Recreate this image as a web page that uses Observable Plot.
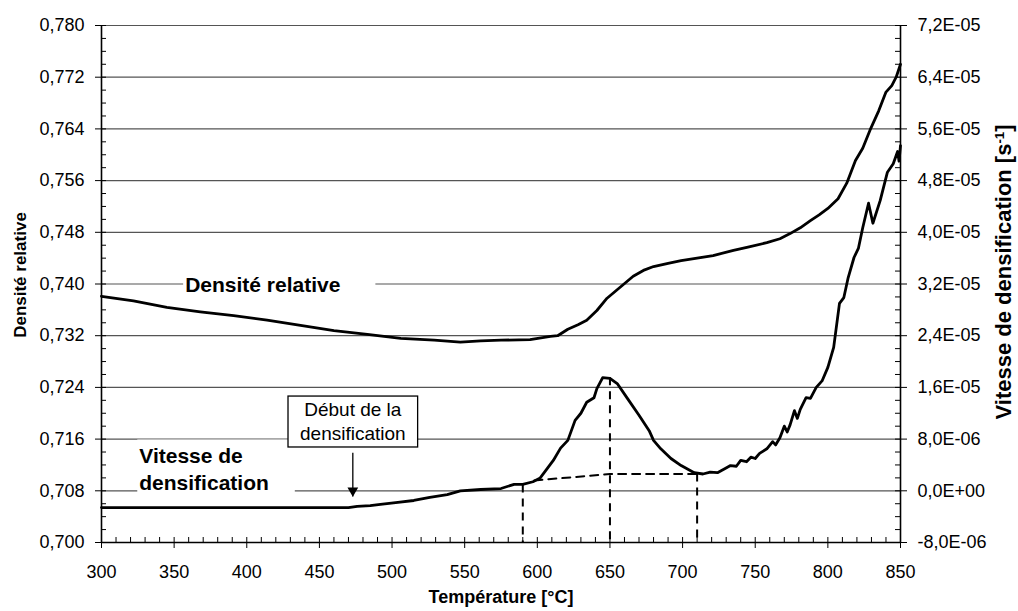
<!DOCTYPE html>
<html>
<head>
<meta charset="utf-8">
<script src="https://cdn.jsdelivr.net/npm/d3@7"></script>
<script src="https://cdn.jsdelivr.net/npm/@observablehq/plot@0.6"></script>
<style>
  html, body { margin: 0; padding: 0; background: #fff; }
  #chart svg { display: block; }
</style>
</head>
<body>
<div id="chart"></div>
<script>
// ---------- Data ----------
// Relative density vs temperature (left axis)
const densityT = [300, 322, 345, 368, 391, 414, 437, 460, 483, 506, 529, 547, 561, 575, 595, 609, 614, 621, 628, 634, 641, 648, 657, 666, 673, 680, 690, 699, 710, 721, 735, 745, 758, 767, 774, 781, 788, 794, 800, 807, 813, 819, 824, 829, 835, 840, 844, 847, 850];
const densityValues = [0.7381, 0.7374, 0.7364, 0.7357, 0.7351, 0.7344, 0.7336, 0.7328, 0.7322, 0.7316, 0.7313, 0.7310, 0.7312, 0.7313, 0.7314, 0.7319, 0.7320, 0.7330, 0.7337, 0.7344, 0.7359, 0.7378, 0.7395, 0.7412, 0.7421, 0.7427, 0.7432, 0.7436, 0.7440, 0.7444, 0.7452, 0.7457, 0.7464, 0.7470, 0.7478, 0.7487, 0.7498, 0.7507, 0.7517, 0.7532, 0.7556, 0.7591, 0.7610, 0.7638, 0.7668, 0.7697, 0.7707, 0.7720, 0.7740];

// Densification rate vs temperature (right axis, s^-1)
const rateT = [300, 350, 400, 450, 470, 476, 485, 492, 504, 515, 526, 538, 547, 561, 575, 584, 590, 597, 602, 606, 611, 616, 621, 626, 630, 634, 639, 641, 645, 650, 655, 662, 670, 677, 680, 685, 692, 699, 708, 714, 719, 724, 729, 733, 737, 740, 744, 747, 750, 753, 758, 762, 764, 767, 770, 772, 774, 777, 779, 781, 785, 788, 792, 796, 800, 804, 808, 811, 814, 818, 821, 824, 828, 831, 836, 841, 845, 848, 849, 850];
const rateValues = [-2.6e-6, -2.6e-6, -2.6e-6, -2.6e-6, -2.6e-6, -2.4e-6, -2.3e-6, -2.1e-6, -1.8e-6, -1.5e-6, -1.0e-6, -0.6e-6, 0.0, 0.2e-6, 0.35e-6, 1.0e-6, 1.0e-6, 1.4e-6, 2.0e-6, 3.2e-6, 4.7e-6, 6.6e-6, 7.8e-6, 10.9e-6, 12.0e-6, 13.7e-6, 14.4e-6, 15.8e-6, 17.5e-6, 17.4e-6, 16.6e-6, 14.3e-6, 11.7e-6, 9.3e-6, 7.8e-6, 6.5e-6, 5.0e-6, 3.9e-6, 2.8e-6, 2.6e-6, 2.9e-6, 2.8e-6, 3.4e-6, 3.9e-6, 3.8e-6, 4.7e-6, 4.5e-6, 5.2e-6, 5.0e-6, 5.8e-6, 6.5e-6, 7.6e-6, 7.1e-6, 8.2e-6, 10.0e-6, 9.1e-6, 10.2e-6, 12.4e-6, 11.2e-6, 12.6e-6, 14.4e-6, 14.3e-6, 16.0e-6, 17.0e-6, 19.1e-6, 22.2e-6, 29.0e-6, 29.9e-6, 33.0e-6, 36.1e-6, 37.5e-6, 40.7e-6, 44.5e-6, 41.4e-6, 44.9e-6, 49.3e-6, 50.6e-6, 52.5e-6, 51.0e-6, 53.4e-6];

// Dashed construction lines (rate units)
const baselineT = [598, 650, 710];
const baselineRate = [1.6e-6, 2.6e-6, 2.6e-6];
const dropT = [590, 650, 710];
const dropRate = [0.9e-6, 17.5e-6, 2.6e-6];

// Axes
const tempDomain = [300, 850];
const densityDomain = [0.700, 0.780];
const rateDomain = [-8e-6, 7.2e-5];
const tempTicks = [300, 350, 400, 450, 500, 550, 600, 650, 700, 750, 800, 850];
const densityTicks = [0.700, 0.708, 0.716, 0.724, 0.732, 0.740, 0.748, 0.756, 0.764, 0.772, 0.780];
const rateTicks = [-8e-6, 0, 8e-6, 1.6e-5, 2.4e-5, 3.2e-5, 4.0e-5, 4.8e-5, 5.6e-5, 6.4e-5, 7.2e-5];
const rateTickLabels = ["-8,0E-06", "0,0E+00", "8,0E-06", "1,6E-05", "2,4E-05", "3,2E-05", "4,0E-05", "4,8E-05", "5,6E-05", "6,4E-05", "7,2E-05"];
const tempMinorStep = 10;
const densityMinorStep = 0.002;

// Texts
const xTitle = "Température [°C]";
const yTitle = "Densité relative";
const y2Title = "Vitesse de densification [s-1]";
const densityLabel = ["Densité relative"];
const densityLabelT = [411];
const densityLabelD = [0.7398];
const rateLabel = ["Vitesse de\ndensification"];
const rateLabelT = [326];
const rateLabelD = [0.7116];
const onsetLabel = ["Début de la\ndensification"];
const onsetT = [473];
const onsetLabelD = [0.7189];
const onsetArrowFromD = [0.7139];
const onsetArrowToD = [0.7071];

// ---------- Build ----------
const W = 1018, H = 611;
const M = {top: 25, right: 118, bottom: 69, left: 101};
const plotW = W - M.left - M.right;
const plotH = H - M.top - M.bottom;

const rateToDensity = d3.scaleLinear().domain(rateDomain).range(densityDomain);

const densityData = densityT.map((t, i) => ({t, v: densityValues[i]}));
const rateData = rateT.map((t, i) => ({t, v: rateToDensity(rateValues[i])}));
const baselineData = baselineT.map((t, i) => ({t, v: rateToDensity(baselineRate[i])}));
const dropData = dropT.map((t, i) => ({t, y1: rateToDensity(dropRate[i]), y2: densityDomain[0]}));

const minorT = d3.range(tempDomain[0], tempDomain[1] + 0.001, tempMinorStep);
const minorD = d3.range(0, Math.round((densityDomain[1] - densityDomain[0]) / densityMinorStep) + 1)
  .map(i => +(densityDomain[0] + i * densityMinorStep).toFixed(4));
const rateTickPos = rateTicks.map(r => rateToDensity(r));

const fmtDensity = d => d.toFixed(3).replace(".", ",");
const fmtRate = d => {
  const i = rateTickPos.findIndex(p => Math.abs(p - d) < 1e-7);
  return i >= 0 ? rateTickLabels[i] : "";
};

const gridColor = "#555";

const svg = Plot.plot({
  width: W,
  height: H,
  marginTop: M.top,
  marginRight: M.right,
  marginBottom: M.bottom,
  marginLeft: M.left,
  style: {fontFamily: "'Liberation Sans', Arial, Helvetica, sans-serif", fontSize: "18px", color: "black", background: "white"},
  x: {domain: tempDomain},
  y: {domain: densityDomain},
  marks: [
    // horizontal gridlines
    Plot.ruleY(densityTicks, {stroke: gridColor, strokeWidth: 1.2}),
    // minor ticks (inside)
    Plot.tickY(minorD, {y: d => d, stroke: "black", strokeWidth: 1, insetRight: plotW - 5}),
    Plot.tickY(minorD, {y: d => d, stroke: "black", strokeWidth: 1, insetLeft: plotW - 5}),
    Plot.tickX(minorT, {x: d => d, stroke: "black", strokeWidth: 1, insetTop: plotH - 5}),
    // axes
    Plot.axisY({anchor: "left", ticks: densityTicks, tickFormat: fmtDensity, tickSize: 6, tickPadding: 11, label: null, fontSize: 18}),
    Plot.axisY({anchor: "right", ticks: rateTickPos, tickFormat: fmtRate, tickSize: 6, tickPadding: 11, label: null, fontSize: 18}),
    Plot.axisX({anchor: "bottom", ticks: tempTicks, tickSize: 6, tickPadding: 17, label: null, fontSize: 18}),
    // frame lines
    Plot.ruleX(tempDomain, {stroke: "black", strokeWidth: 1.6}),
    Plot.ruleY([densityDomain[0]], {stroke: "black", strokeWidth: 1.6}),
    // dashed construction lines
    Plot.ruleX(dropData, {x: "t", y1: "y1", y2: "y2", stroke: "black", strokeWidth: 2, strokeDasharray: "8,6"}),
    Plot.line(baselineData, {x: "t", y: "v", stroke: "black", strokeWidth: 2, strokeDasharray: "8,6"}),
    // curves
    Plot.line(densityData, {x: "t", y: "v", stroke: "black", strokeWidth: 2.8, strokeLinejoin: "round"}),
    Plot.line(rateData, {x: "t", y: "v", stroke: "black", strokeWidth: 2.8, strokeLinejoin: "round"}),
    // annotations
    Plot.link(onsetT, {x1: d => d, x2: d => d, y1: (d, i) => onsetArrowFromD[i], y2: (d, i) => onsetArrowToD[i], stroke: "black", strokeWidth: 1.3}),
    Plot.dot(onsetT, {x: d => d, y: (d, i) => onsetArrowToD[i], symbol: "triangle", rotate: 180, r: 4, fill: "black", stroke: "none", dy: -6}),
    Plot.text(densityLabel, {x: (d, i) => densityLabelT[i], y: (d, i) => densityLabelD[i], text: d => d, fontSize: 21, fontWeight: "bold", textAnchor: "middle", fill: "black"}),
    Plot.text(rateLabel, {x: (d, i) => rateLabelT[i], y: (d, i) => rateLabelD[i], text: d => d, fontSize: 21, fontWeight: "bold", textAnchor: "start", lineHeight: 1.33, fill: "black"}),
    Plot.text(onsetLabel, {x: (d, i) => onsetT[i], y: (d, i) => onsetLabelD[i], text: d => d, fontSize: 19, textAnchor: "middle", lineHeight: 1.26, fill: "black"}),
    // axis titles
    Plot.text([yTitle], {frameAnchor: "left", text: d => d, rotate: -90, textAnchor: "middle", lineAnchor: "middle", dx: -81, dy: -9, fontSize: 17, fontWeight: "bold", fill: "black"}),
    Plot.text([y2Title], {frameAnchor: "right", text: d => d, rotate: -90, textAnchor: "middle", lineAnchor: "middle", dx: 103, dy: -12, fontSize: 22, fontWeight: "bold", fill: "black"}),
    Plot.text([xTitle], {frameAnchor: "bottom", text: d => d, textAnchor: "middle", lineAnchor: "middle", dy: 55, fontSize: 18, fontWeight: "bold", fill: "black"})
  ]
});

document.getElementById("chart").appendChild(svg);

// Backgrounds / box behind in-plot labels (computed from the rendered text)
const pads = new Map([
  [densityLabel[0], {l: 2, r: 35, t: 2, b: 2, stroke: "none"}],
  [rateLabel[0].replace("\n", ""), {l: 2, r: 26, t: 4, b: 4, stroke: "none"}],
  [onsetLabel[0].replace("\n", ""), {l: 12, r: 12, t: 3, b: 3, stroke: "black"}]
]);
d3.select(svg).selectAll('g[aria-label="text"] text').each(function () {
  const key = this.textContent;
  const p = pads.get(key);
  if (!p) return;
  const bb = this.getBBox();
  const rect = document.createElementNS("http://www.w3.org/2000/svg", "rect");
  rect.setAttribute("x", bb.x - p.l);
  rect.setAttribute("y", bb.y - p.t);
  rect.setAttribute("width", bb.width + p.l + p.r);
  rect.setAttribute("height", bb.height + p.t + p.b);
  rect.setAttribute("fill", "white");
  rect.setAttribute("stroke", p.stroke);
  rect.setAttribute("stroke-width", "1.3");
  const tr = this.getAttribute("transform");
  if (tr) rect.setAttribute("transform", tr);
  this.parentNode.insertBefore(rect, this);
});

// Superscript in the right axis title
d3.select(svg).selectAll('g[aria-label="text"] text').each(function () {
  if (this.textContent !== y2Title) return;
  const sel = d3.select(this);
  sel.text(null);
  sel.append("tspan").text("Vitesse de densification [s");
  sel.append("tspan").attr("baseline-shift", "super").attr("font-size", "60%").text("-1");
  sel.append("tspan").text("]");
});
</script>
</body>
</html>
